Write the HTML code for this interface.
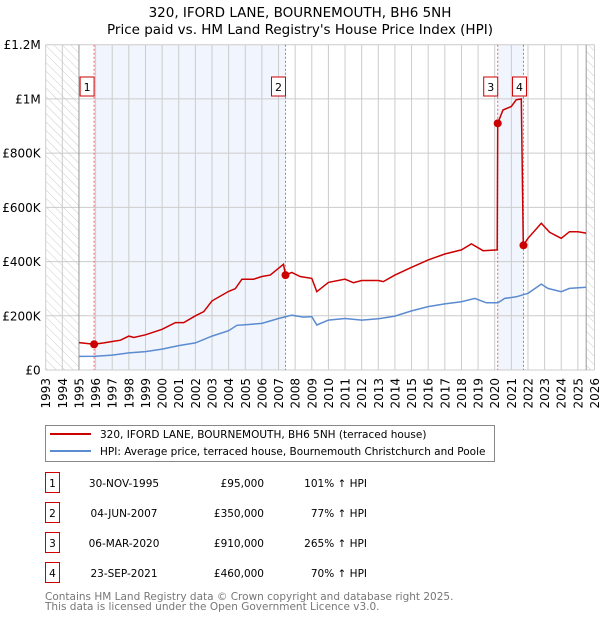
<!DOCTYPE html>
<html><head><meta charset="utf-8"><style>
body{margin:0;background:#fff;font-family:"DejaVu Sans","Liberation Sans",sans-serif;}
svg text{font-family:"DejaVu Sans","Liberation Sans",sans-serif;}
</style></head><body>
<svg id="chart" width="600" height="620" xmlns="http://www.w3.org/2000/svg">
<defs><pattern id="hatch" width="6" height="6" patternUnits="userSpaceOnUse" patternTransform="rotate(-45)"><line x1="0" y1="0" x2="0" y2="6" stroke="#ccc" stroke-width="1"/></pattern></defs>
<text x="300" y="17" text-anchor="middle" font-size="13.5">320, IFORD LANE, BOURNEMOUTH, BH6 5NH</text>
<text x="300" y="34" text-anchor="middle" font-size="13.5">Price paid vs. HM Land Registry's House Price Index (HPI)</text>
<g id="plot"></g>
<g>
<rect x="45.5" y="425.5" width="449" height="36" fill="#fff" stroke="#888"/>
<line x1="50" y1="434" x2="91" y2="434" stroke="#cc0000" stroke-width="2"/>
<text x="100" y="438" font-size="10.5">320, IFORD LANE, BOURNEMOUTH, BH6 5NH (terraced house)</text>
<line x1="50" y1="451" x2="91" y2="451" stroke="#5b8bd0" stroke-width="2"/>
<text x="100" y="455" font-size="10.5">HPI: Average price, terraced house, Bournemouth Christchurch and Poole</text>
</g>
<g id="table"></g>
<text x="45" y="600" font-size="10.5" fill="#777">Contains HM Land Registry data © Crown copyright and database right 2025.</text>
<text x="45" y="610" font-size="10.5" fill="#777">This data is licensed under the Open Government Licence v3.0.</text>
</svg>
<script>
const hpiYears=[1995,1996,1997,1998,1999,2000,2001,2002,2003,2004,2004.5,2005,2006,2007,2007.8,2008.5,2009,2009.3,2010,2011,2012,2013,2014,2015,2016,2017,2018,2018.8,2019.5,2020.2,2020.6,2021.3,2022,2022.8,2023.2,2024,2024.5,2025.5];
const hpiValues=[50,51,55,63,68,77,90,100,125,145,165,167,172,190,202,195,197,166,184,190,184,189,199,218,234,244,252,264,248,248,264,270,283,317,301,289,301,305];
const redYears=[1995,1995.9,1996.5,1997,1997.5,1998,1998.3,1999,2000,2000.8,2001.3,2002,2002.5,2003,2004,2004.4,2004.8,2005.5,2006,2006.5,2007,2007.3,2007.42,2007.8,2008.3,2009,2009.3,2010,2011,2011.5,2012,2013,2013.3,2014,2015,2016,2017,2018,2018.6,2019.3,2020.15,2020.18,2020.5,2021,2021.3,2021.6,2021.72,2022,2022.8,2023.3,2024,2024.5,2025,2025.5];
const redValues=[101,95,100,105,110,125,120,130,150,175,175,200,215,255,290,300,335,335,345,350,375,390,350,360,345,338,289,323,335,322,330,330,326,350,379,406,428,443,465,440,443,910,959,972,997,1000,460,486,541,508,486,510,510,505];
const saleLabels=["1","2","3","4"];
const saleYears=[1995.91,2007.42,2020.18,2021.73];
const saleValues=[95,350,910,460];
const saleDates=["30-NOV-1995","04-JUN-2007","06-MAR-2020","23-SEP-2021"];
const salePrices=["£95,000","£350,000","£910,000","£460,000"];
const saleHpi=["101% ↑ HPI","77% ↑ HPI","265% ↑ HPI","70% ↑ HPI"];
const yTicks=[0,200,400,600,800,1000,1200];
const yTickLabels=["£0","£200K","£400K","£600K","£800K","£1M","£1.2M"];

const NS="http://www.w3.org/2000/svg";
const X0=45.7,Y0=370,Y1=44.7,PX=16.63;
const xs=y=>X0+(y-1993)*PX;
const ys=v=>Y0-(v/1200)*(Y0-Y1);
const plot=document.getElementById('plot');
function mk(tag,attrs,parent){const e=document.createElementNS(NS,tag);for(const k in attrs)e.setAttribute(k,attrs[k]);(parent||plot).appendChild(e);return e;}
const xEnd=xs(2026);
let e;
e=mk('rect',{x:X0,y:Y1,width:xEnd-X0,height:Y0-Y1,fill:'#fff'});


e=mk('rect',{x:xs(saleYears[0]),y:Y1,width:xs(saleYears[1])-xs(saleYears[0]),height:Y0-Y1,fill:'#f1f5fd'});


e=mk('rect',{x:xs(saleYears[2]),y:Y1,width:xs(saleYears[3])-xs(saleYears[2]),height:Y0-Y1,fill:'#f1f5fd'});


e=mk('rect',{x:X0,y:Y1,width:xs(1995)-X0,height:Y0-Y1,fill:'url(#hatch)'});


e=mk('rect',{x:xs(2025.5),y:Y1,width:xEnd-xs(2025.5),height:Y0-Y1,fill:'url(#hatch)'});


for(let yr=1993;yr<=2026;yr++){
 e=mk('line',{x1:xs(yr),y1:Y1,x2:xs(yr),y2:Y0,stroke:'#ccc','stroke-width':1});
 
 
 e=mk('text',{x:0,y:0,'font-size':12,'text-anchor':'end',transform:`translate(${xs(yr)+4.5},${Y0+8}) rotate(-90)`});
 e.textContent=yr;
 
 
}
yTicks.forEach((t,i)=>{
 e=mk('line',{x1:X0,y1:ys(t),x2:xEnd,y2:ys(t),stroke:'#ccc','stroke-width':1});
 
 
 e=mk('text',{x:X0-5,y:ys(t)+4.5,'font-size':12,'text-anchor':'end'});
 e.textContent=yTickLabels[i];
 
 
});
e=mk('line',{x1:xs(1995),y1:Y1,x2:xs(1995),y2:Y0,stroke:'#999'});


e=mk('line',{x1:xs(2025.5),y1:Y1,x2:xs(2025.5),y2:Y0,stroke:'#999'});


saleYears.forEach((sy,i)=>{
 e=mk('line',{x1:xs(sy),y1:Y1,x2:xs(sy),y2:Y0,stroke:'#f06060','stroke-width':1,'stroke-dasharray':'2,2'});
 
 
});
const hp=hpiYears.map((y,i)=>xs(y).toFixed(1)+','+ys(hpiValues[i]).toFixed(1)).join(' ');
e=mk('polyline',{points:hp,fill:'none',stroke:'#5b8bd0','stroke-width':1.5});


const rp=redYears.map((y,i)=>xs(y).toFixed(1)+','+ys(redValues[i]).toFixed(1)).join(' ');
e=mk('polyline',{points:rp,fill:'none',stroke:'#cc0000','stroke-width':1.5});


saleYears.forEach((sy,i)=>{
 e=mk('circle',{cx:xs(sy),cy:ys(saleValues[i]),r:4,fill:'#cc0000'});
 
 
 const cx=i==3?xs(sy)-4:xs(sy)-7;
 e=mk('rect',{x:cx-7,y:77,width:14,height:19,fill:'#fff',stroke:'#cc0000'});
 
 
 e=mk('text',{x:cx,y:91,'font-size':11,'text-anchor':'middle'});
 e.textContent=saleLabels[i];
 
 
});
const tb=document.getElementById('table');
saleLabels.forEach((l,i)=>{
 const y=483+i*30;
 e=mk('rect',{x:45.5,y:y-10.5,width:14,height:20,fill:'#fff',stroke:'#cc0000'},tb);
 
 
 e=mk('text',{x:52.5,y:y+4,'font-size':10.5,'text-anchor':'middle'},tb);e.textContent=l;
 
 
 e=mk('text',{x:124,y:y+4,'font-size':10.5,'text-anchor':'middle'},tb);e.textContent=saleDates[i];
 
 
 e=mk('text',{x:264,y:y+4,'font-size':10.5,'text-anchor':'end'},tb);e.textContent=salePrices[i];
 
 
 e=mk('text',{x:367,y:y+4,'font-size':10.5,'text-anchor':'end'},tb);e.textContent=saleHpi[i];
 
 
});
</script>
</body></html>
